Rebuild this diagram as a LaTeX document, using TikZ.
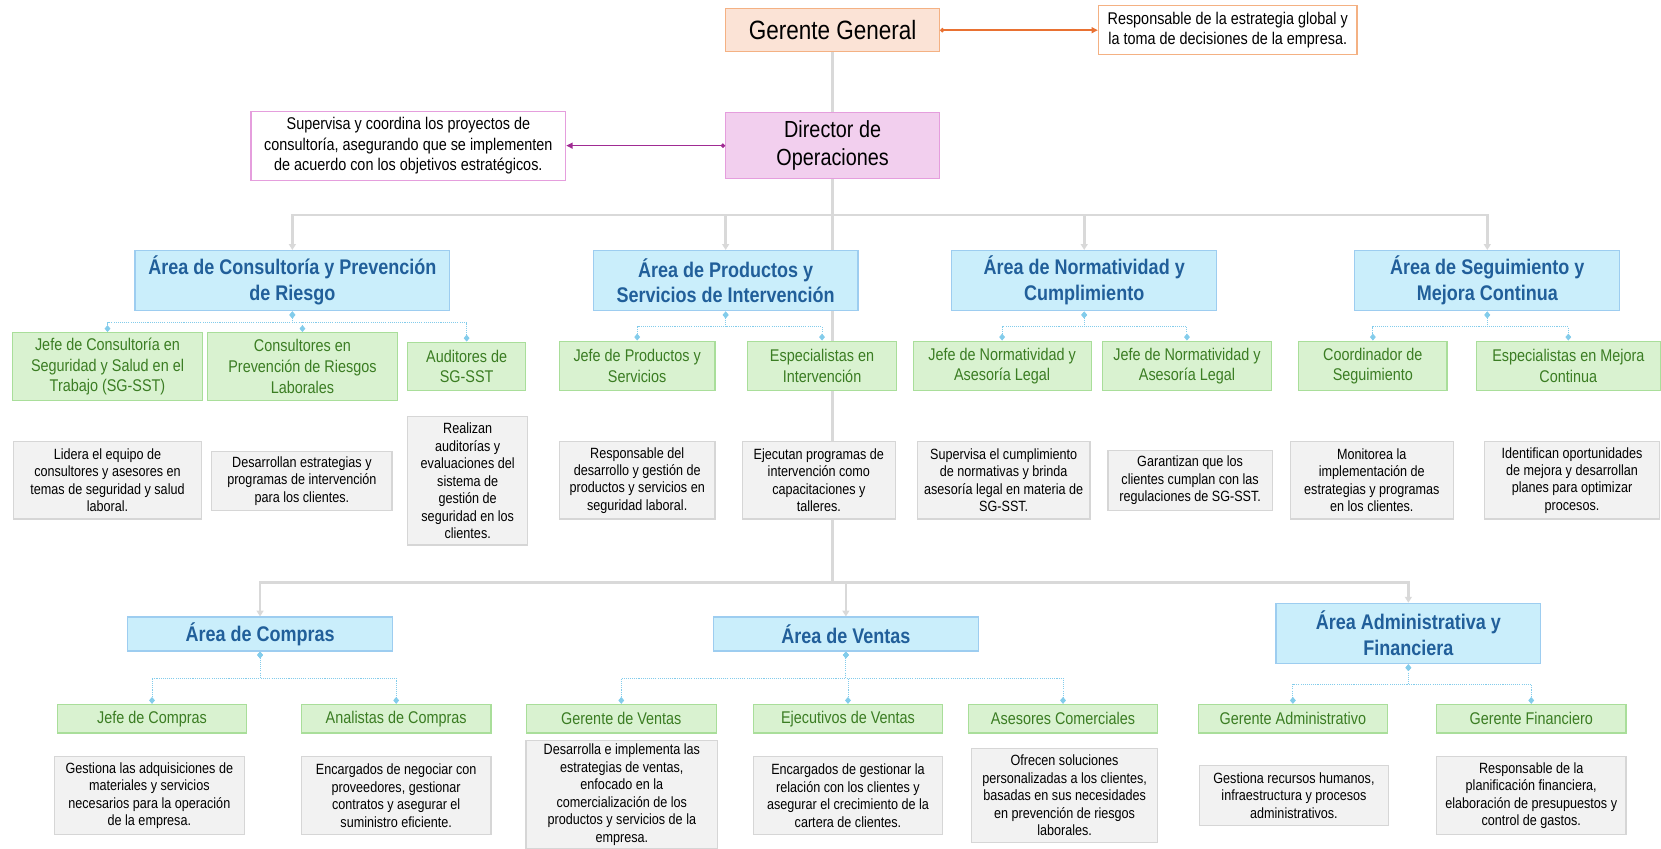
\documentclass[tikz,border=0pt]{standalone}
\usepackage{fontspec}
\setmainfont{Liberation Sans}[FakeStretch=0.85]
\usetikzlibrary{arrows.meta,backgrounds}

\definecolor{naranja}{HTML}{E97132}
\definecolor{naranjafondo}{HTML}{FBE3D6}
\definecolor{naranjaborde}{HTML}{F4B183}
\definecolor{morado}{HTML}{A02B93}
\definecolor{rosafondo}{HTML}{F2CFEE}
\definecolor{rosaborde}{HTML}{E59EDD}
\definecolor{azulfondo}{HTML}{CAEEFB}
\definecolor{azulborde}{HTML}{9DCDF0}
\definecolor{azultexto}{HTML}{215F9A}
\definecolor{verdefondo}{HTML}{D9F2D0}
\definecolor{verdeborde}{HTML}{A9DE9A}
\definecolor{verdetexto}{HTML}{3B7D23}
\definecolor{grisfondo}{HTML}{F2F2F2}
\definecolor{grisborde}{HTML}{D6D6D6}
\definecolor{gristronco}{HTML}{D9D9D9}
\definecolor{celeste}{HTML}{83CCEB}

\begin{document}
\begin{tikzpicture}[x=1pt,y=-1pt,
		caja/.style={draw,line width=1.1pt,align=center,inner sep=0pt},
		dims/.style 2 args={minimum width=#1pt,minimum height=#2pt},
		gerencia/.style={caja,draw=naranjaborde,fill=naranjafondo,font=\fontsize{25}{30}\selectfont},
		direccion/.style={caja,draw=rosaborde,fill=rosafondo,font=\fontsize{22}{27}\selectfont},
		nota/.style={caja,fill=white,font=\fontsize{16}{19.5}\selectfont},
		area/.style={caja,draw=azulborde,fill=azulfondo,text=azultexto,font=\fontsize{20}{24.5}\selectfont\bfseries},
		puesto/.style={caja,draw=verdeborde,fill=verdefondo,text=verdetexto,font=\fontsize{16}{19.5}\selectfont},
		funcion/.style={caja,draw=grisborde,fill=grisfondo,font=\fontsize{14}{16.5}\selectfont},
		tronco/.style={draw=gristronco,line width=2.5pt},
		baja/.style={tronco,-{Triangle[width=6.5pt,length=5.5pt]}},
		rama/.style={draw=celeste,line width=0.9pt,dash pattern=on 1pt off 1pt,
			{Diamond[width=5.5pt,length=6.5pt,fill=celeste]}-{Diamond[width=5.5pt,length=6.5pt,fill=celeste]}},
		enlace/.style={line width=1.5pt,{Circle[length=4pt]}-{Triangle[width=5.5pt,length=6pt]}}]

	\useasboundingbox (0,0) rectangle (1568,801);

	\node[gerencia,dims={202}{41}] (gg) at (786,28.5) {Gerente General};
	\node[nota,draw=naranjaborde,dims={244}{46}] (resp) at (1159,28.5) {Responsable de la estrategia global y\\la toma de decisiones de la empresa.};
	\node[direccion,dims={202}{62}] (dir) at (786,137.5) {Director de\\Operaciones};
	\node[nota,draw=rosaborde,dims={297}{65}] (sup) at (385.5,137.5) {Supervisa y coordina los proyectos de\\consultoría, asegurando que se implementen\\de acuerdo con los objetivos estratégicos.};

	\node[area,dims={297}{57}] (cons) at (276,265) {Área de Consultoría y Prevención\\de Riesgo};
	\node[area,dims={250}{57}] (prod) at (685,265) {Área de Productos y\\Servicios de Intervención};
	\node[area,dims={250}{57}] (norm) at (1023.5,265) {Área de Normatividad y\\Cumplimiento};
	\node[area,dims={250}{57}] (seg) at (1404,265) {Área de Seguimiento y\\Mejora Continua};

	\node[puesto,dims={179}{64}] (jcons) at (101.5,346) {Jefe de Consultoría en\\Seguridad y Salud en el\\Trabajo (SG-SST)};
	\node[puesto,dims={179}{64}] (ccons) at (285.5,346) {Consultores en\\Prevención de Riesgos\\Laborales};
	\node[puesto,dims={111}{46}] (aud) at (440.5,346) {Auditores de\\SG-SST};
	\node[puesto,dims={147}{47}] (jprod) at (601.5,345.5) {Jefe de Productos y\\Servicios};
	\node[puesto,dims={140}{47}] (espi) at (776,345.5) {Especialistas en\\Intervención};
	\node[puesto,dims={168}{47}] (jnorm) at (946,345.5) {Jefe de Normatividad y\\Asesoría Legal};
	\node[puesto,dims={159}{47}] (jleg) at (1120.5,345.5) {Jefe de Normatividad y\\Asesoría Legal};
	\node[puesto,dims={140}{47}] (coord) at (1296,345.5) {Coordinador de\\Seguimiento};
	\node[puesto,dims={174}{47}] (espm) at (1480.5,345.5) {Especialistas en Mejora\\Continua};

	\node[funcion,dims={178}{73}] at (101.5,453.5) {Lidera el equipo de\\consultores y asesores en\\temas de seguridad y salud\\laboral.};
	\node[funcion,dims={170}{56}] at (285,454) {Desarrollan estrategias y\\programas de intervención\\para los clientes.};
	\node[funcion,dims={113}{121}] at (441.5,454) {Realizan\\auditorías y\\evaluaciones del\\sistema de\\gestión de\\seguridad en los\\clientes.};
	\node[funcion,dims={147}{73}] at (601.5,453.5) {Responsable del\\desarrollo y gestión de\\productos y servicios en\\seguridad laboral.};
	\node[funcion,dims={144}{73}] at (773,453.5) {Ejecutan programas de\\intervención como\\capacitaciones y\\talleres.};
	\node[funcion,dims={163}{73}] at (947.5,453.5) {Supervisa el cumplimiento\\de normativas y brinda\\asesoría legal en materia de\\SG-SST.};
	\node[funcion,dims={155}{57}] at (1123.5,453.5) {Garantizan que los\\clientes cumplan con las\\regulaciones de SG-SST.};
	\node[funcion,dims={154}{73}] at (1295,453.5) {Monitorea la\\implementación de\\estrategias y programas\\en los clientes.};
	\node[funcion,dims={165}{73}] at (1484,453.5) {Identifican oportunidades\\de mejora y desarrollan\\planes para optimizar\\procesos.};

	\node[area,dims={250}{32}] (compras) at (245.5,598.5) {Área de Compras};
	\node[area,dims={250}{32}] (ventas) at (798.5,598.5) {Área de Ventas};
	\node[area,dims={250}{57}] (admin) at (1329.5,598) {Área Administrativa y\\Financiera};

	\node[puesto,dims={179}{27}] (jcomp) at (143.5,678.5) {Jefe de Compras};
	\node[puesto,dims={179}{27}] (acomp) at (374,678.5) {Analistas de Compras};
	\node[puesto,dims={179}{27}] (gven) at (586.5,678.5) {Gerente de Ventas};
	\node[puesto,dims={179}{27}] (even) at (800.5,678.5) {Ejecutivos de Ventas};
	\node[puesto,dims={179}{27}] (aven) at (1003.5,678.5) {Asesores Comerciales};
	\node[puesto,dims={179}{27}] (gadm) at (1220.5,678.5) {Gerente Administrativo};
	\node[puesto,dims={179}{27}] (gfin) at (1445.5,678.5) {Gerente Financiero};

	\node[funcion,dims={179}{74}] at (141,751) {Gestiona las adquisiciones de\\materiales y servicios\\necesarios para la operación\\de la empresa.};
	\node[funcion,dims={179}{74}] at (374,751) {Encargados de negociar con\\proveedores, gestionar\\contratos y asegurar el\\suministro eficiente.};
	\node[funcion,dims={181}{102}] at (587,750) {Desarrolla e implementa las\\estrategias de ventas,\\enfocado en la\\comercialización de los\\productos y servicios de la\\empresa.};
	\node[funcion,dims={179}{74}] at (800.5,751) {Encargados de gestionar la\\relación con los clientes y\\asegurar el crecimiento de la\\cartera de clientes.};
	\node[funcion,dims={176}{89}] at (1005,751) {Ofrecen soluciones\\personalizadas a los clientes,\\basadas en sus necesidades\\en prevención de riesgos\\laborales.};
	\node[funcion,dims={179}{57}] at (1221.5,751) {Gestiona recursos humanos,\\infraestructura y procesos\\administrativos.};
	\node[funcion,dims={179}{74}] at (1445.5,751) {Responsable de la\\planificación financiera,\\elaboración de presupuestos y\\control de gastos.};

	\draw[enlace,naranja] (gg.east) -- (resp.west);
	\draw[enlace,morado] (dir.west) -- (sup.east);

	\begin{scope}[on background layer]
		\coordinate (bus1) at (786,203);
		\coordinate (bus2) at (786,550);
		\draw[tronco] (gg) -- (dir);
		\foreach \n in {cons,prod,norm,seg} {\draw[baja] (dir.south) |- (bus1) -| (\n.north);}
		\foreach \n in {compras,ventas,admin} {\draw[baja] (dir.south) |- (bus2) -| (\n.north);}

		\foreach \p/\c/\d in {cons/jcons/10, cons/ccons/10, cons/aud/10,
			prod/jprod/14.5, prod/espi/14.5, norm/jnorm/14.5, norm/jleg/14.5,
			seg/coord/14.5, seg/espm/14.5, compras/jcomp/25, compras/acomp/25,
			ventas/gven/25, ventas/even/25, ventas/aven/25, admin/gadm/19, admin/gfin/19}
			{\draw[rama] (\p.south) -- ++(0,\d) -| (\c.north);}
	\end{scope}
\end{tikzpicture}
\end{document}
